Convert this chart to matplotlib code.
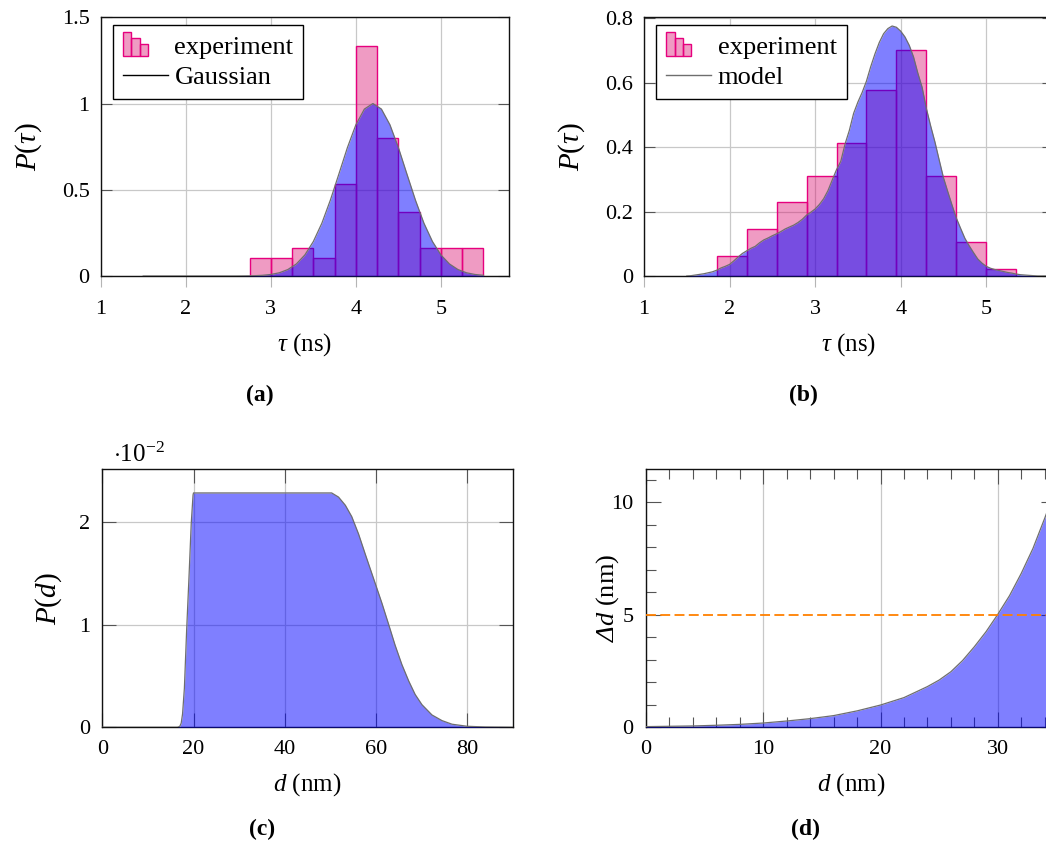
import numpy as np
import matplotlib
matplotlib.use('Agg')
import matplotlib.pyplot as plt
from matplotlib.lines import Line2D
from matplotlib.patches import Rectangle
from matplotlib.legend_handler import HandlerBase
from matplotlib.ticker import FuncFormatter, MultipleLocator

plt.rcParams['font.family'] = 'Liberation Serif'
plt.rcParams['mathtext.fontset'] = 'custom'
plt.rcParams['mathtext.rm'] = 'Liberation Serif'
plt.rcParams['mathtext.it'] = 'Liberation Serif:italic'
# the bf slot is only used for the slanted capital Delta in panel (d)
plt.rcParams['mathtext.bf'] = 'Liberation Serif:italic'

BAR_FACE = (0.85, 0.02, 0.41, 0.4)
BAR_EDGE = '#e6007e'
FILL = (0.0, 0.0, 1.0, 0.5)
OUTLINE = '#6e6e6e'
GRID = '#c8c8c8'
TICK = '#555555'
TICK_SIZE = 16

# (a) lifetime histogram and Gaussian fit
edges_a = [2.75, 3.0, 3.25, 3.5, 3.75, 4.0, 4.25, 4.5, 4.75, 5.0, 5.25, 5.5]
hist_a = [0.107, 0.107, 0.16, 0.107, 0.533, 1.333, 0.8, 0.373, 0.16, 0.16, 0.16]
tau_a = np.round(np.arange(1.5, 5.55, 0.1), 2)
gauss_a = [0, 0, 0, 0, 0, 0, 0, 0, 0, 0, 0, 0,
           0.0006, 0.0016, 0.0039, 0.0088, 0.0187, 0.0374, 0.0698, 0.122, 0.200, 0.306,
           0.440, 0.591, 0.744, 0.877, 0.968, 1.0, 0.968, 0.877, 0.744, 0.591,
           0.440, 0.306, 0.200, 0.122, 0.0698, 0.0374, 0.0187, 0.0088, 0.0039]

# (b) lifetime histogram and simulated model
edges_b = [1.85, 2.2, 2.55, 2.9, 3.25, 3.6, 3.95, 4.3, 4.65, 5.0, 5.35]
hist_b = [0.062, 0.145, 0.229, 0.309, 0.412, 0.577, 0.701, 0.309, 0.105, 0.021]
tau_b = np.round(np.arange(1.5, 5.825, 0.05), 3)
model_b = [0.000, 0.001, 0.003, 0.005, 0.007, 0.010, 0.013, 0.018, 0.025, 0.030,
           0.036, 0.047, 0.059, 0.070, 0.078, 0.086, 0.092, 0.103, 0.112, 0.118,
           0.125, 0.131, 0.138, 0.146, 0.152, 0.158, 0.166, 0.176, 0.189, 0.198,
           0.208, 0.222, 0.240, 0.265, 0.298, 0.330, 0.356, 0.410, 0.452, 0.505,
           0.540, 0.570, 0.605, 0.650, 0.690, 0.725, 0.752, 0.768, 0.776, 0.772,
           0.760, 0.742, 0.716, 0.680, 0.630, 0.586, 0.520, 0.466, 0.416, 0.360,
           0.305, 0.262, 0.220, 0.180, 0.148, 0.117, 0.094, 0.073, 0.053, 0.040,
           0.030, 0.024, 0.020, 0.017, 0.014, 0.011, 0.009, 0.006, 0.004, 0.003,
           0.002, 0.001, 0.000, 0.000, 0.000, 0.000, 0.000]

# (c) distance distribution, in units of 1e-2
d_c = [0, 16.5, 17.0, 17.3, 17.6, 18.0, 18.5, 19.0, 19.5, 19.9,
       20.0, 35.0, 48.9, 50.3, 51.8, 53.3, 54.7, 56.2, 57.7, 60.0,
       61.3, 62.8, 64.2, 65.7, 67.2, 68.6, 70.1, 72.3, 74.5, 76.7,
       80.0, 84.0, 90.0]
p_c = [0, 0, 0.01, 0.04, 0.13, 0.38, 0.95, 1.45, 1.98, 2.26,
       2.28, 2.28, 2.28, 2.28, 2.24, 2.16, 2.05, 1.88, 1.68, 1.38,
       1.21, 1.00, 0.80, 0.61, 0.45, 0.32, 0.22, 0.12, 0.065, 0.03,
       0.01, 0.003, 0.0]

# (d) distance uncertainty
d_d = [0, 2, 4, 6, 8, 10, 12, 14, 16, 18, 20, 22, 24, 25, 26, 27, 28, 29, 30, 31, 32, 33, 34, 35]
dd = [0.03, 0.045, 0.06, 0.09, 0.13, 0.19, 0.28, 0.385, 0.52, 0.73, 0.99, 1.32,
      1.81, 2.1, 2.47, 2.97, 3.58, 4.25, 5.02, 5.85, 6.84, 7.95, 9.29, 10.7]
dd_limit = 5


class HistIcon(HandlerBase):
    def create_artists(self, legend, orig_handle, xdescent, ydescent,
                       width, height, fontsize, trans):
        bw = width * 0.185
        tops = [1.32, 1.0, 0.66]
        y0 = -ydescent - 0.12 * height
        out = []
        for i, t in enumerate(tops):
            out.append(Rectangle((-xdescent + i * bw, y0), bw, t * height,
                                 facecolor=BAR_FACE, edgecolor=BAR_EDGE,
                                 lw=1.0, transform=trans))
        return out


W, H = 1046, 849
fig = plt.figure(figsize=(W / 100, H / 100), dpi=100)


def rect(left, top, right, bottom):
    return [left / W, 1 - bottom / H, (right - left) / W, (bottom - top) / H]


ax_a = fig.add_axes(rect(100.7, 17.3, 509.0, 276.0))
ax_b = fig.add_axes(rect(644.0, 17.3, 1053.0, 276.0))
ax_c = fig.add_axes(rect(102.3, 469.3, 512.7, 727.3))
ax_d = fig.add_axes(rect(646.0, 469.3, 1056.4, 727.3))

for ax in (ax_a, ax_b, ax_c, ax_d):
    for s in ax.spines.values():
        s.set_linewidth(1.0)
        s.set_color('#111111')
    ax.set_axisbelow(True)


def lifetime_panel(ax, edges, hist, tau, curve, curve_label, line_color):
    widths = np.diff(edges)
    ax.bar(edges[:-1], hist, width=widths, align='edge', facecolor=BAR_FACE,
           edgecolor=BAR_EDGE, lw=1.0, zorder=2)
    ax.fill_between(tau, curve, color=FILL, lw=0, zorder=3)
    ax.plot(tau, curve, color=OUTLINE, lw=0.9, zorder=4)
    ax.grid(True, color=GRID, lw=0.9)
    ax.set_xticks([1, 2, 3, 4, 5])
    ax.tick_params(axis='x', direction='out', length=8, width=0.8, color='#b5b5b5',
                   pad=9, labelsize=TICK_SIZE)
    ax.tick_params(axis='y', direction='in', length=8, width=0.8, color=TICK,
                   left=True, right=True, pad=8, labelsize=TICK_SIZE)
    ax.yaxis.set_major_formatter(FuncFormatter(lambda v, p: f'{v:g}'))
    ax.set_xlabel(r'$\tau$ (ns)', fontsize=18)
    ax.xaxis.set_label_coords(0.5, -0.215)
    ax.set_ylabel(r'$P(\tau)$', fontsize=21)
    ax.yaxis.set_label_coords(-0.14, 0.5)
    proxy = Rectangle((0, 0), 1, 1)
    line = Line2D([], [], color=line_color, lw=1.0)
    leg = ax.legend([proxy, line], ['experiment', curve_label],
                    handler_map={proxy: HistIcon()},
                    loc='upper left', bbox_to_anchor=(0.03, 0.969), borderaxespad=0,
                    fancybox=False, edgecolor='black', framealpha=1,
                    handlelength=1.7, handletextpad=0.25, labelspacing=0.25,
                    borderpad=0.38, fontsize=19)
    leg.get_frame().set_linewidth(1.0)
    leg.set_zorder(10)


lifetime_panel(ax_a, edges_a, hist_a, tau_a, gauss_a, 'Gaussian', 'black')
ax_a.set_xlim(1, 5.8)
ax_a.set_ylim(0, 1.5)
ax_a.set_yticks([0, 0.5, 1, 1.5])

lifetime_panel(ax_b, edges_b, hist_b, tau_b, model_b, 'model', OUTLINE)
ax_b.set_xlim(1, 5.78)
ax_b.set_ylim(0, 0.803)
ax_b.set_yticks([0, 0.2, 0.4, 0.6, 0.8])

# (c)
p_c_abs = np.array(p_c) * 1e-2
ax_c.fill_between(d_c, p_c_abs, color=FILL, lw=0, zorder=3)
ax_c.plot(d_c, p_c_abs, color=OUTLINE, lw=0.9, zorder=4)
ax_c.grid(True, color=GRID, lw=0.9)
ax_c.set_xlim(0, 90)
ax_c.set_ylim(0, 0.0251)
ax_c.set_xticks([0, 20, 40, 60, 80])
ax_c.set_yticks([0, 0.01, 0.02])
ax_c.yaxis.set_major_formatter(FuncFormatter(lambda v, p: f'{v * 100:g}'))
ax_c.tick_params(direction='in', length=10, width=0.8, color=TICK, top=True,
                 right=True, pad=9, labelsize=TICK_SIZE)
ax_c.text(0.026, 1.028, r'$\cdot 10^{-2}$', transform=ax_c.transAxes,
          fontsize=18, va='baseline', ha='left')
ax_c.set_xlabel(r'$d$ (nm)', fontsize=18)
ax_c.xaxis.set_label_coords(0.5, -0.17)
ax_c.set_ylabel(r'$P(d)$', fontsize=21)
ax_c.yaxis.set_label_coords(-0.094, 0.5)

# (d)
ax_d.fill_between(d_d, dd, color=FILL, lw=0, zorder=3)
ax_d.plot(d_d, dd, color=OUTLINE, lw=0.9, zorder=4)
ax_d.axhline(dd_limit, color=(1.0, 0.5, 0.0), lw=1.3, ls=(0, (5.5, 2.4)), zorder=5)
ax_d.set_xlim(0, 35)
ax_d.set_ylim(0, 11.47)
ax_d.xaxis.set_major_locator(MultipleLocator(10))
ax_d.xaxis.set_minor_locator(MultipleLocator(2))
ax_d.yaxis.set_major_locator(MultipleLocator(5))
ax_d.yaxis.set_minor_locator(MultipleLocator(1))
ax_d.grid(True, axis='x', which='major', color=GRID, lw=0.9)
ax_d.tick_params(which='major', direction='in', length=11, width=0.8, color=TICK,
                 top=True, right=True, pad=9, labelsize=TICK_SIZE)
ax_d.tick_params(which='minor', direction='in', length=7, width=0.8, color=TICK,
                 top=True, right=True)
ax_d.set_xlabel(r'$d$ (nm)', fontsize=18)
ax_d.xaxis.set_label_coords(0.5, -0.17)
ax_d.set_ylabel(r'$\mathbf{\Delta}d$ (nm)', fontsize=19)
ax_d.yaxis.set_label_coords(-0.06, 0.5)

for label, x, y in [('(a)', 260, 395), ('(b)', 803, 395), ('(c)', 262, 829), ('(d)', 805, 829)]:
    fig.text(x / W, 1 - y / H, label, ha='center', va='center', fontsize=17,
             fontweight='bold')

fig.savefig('out.png', dpi=100)
